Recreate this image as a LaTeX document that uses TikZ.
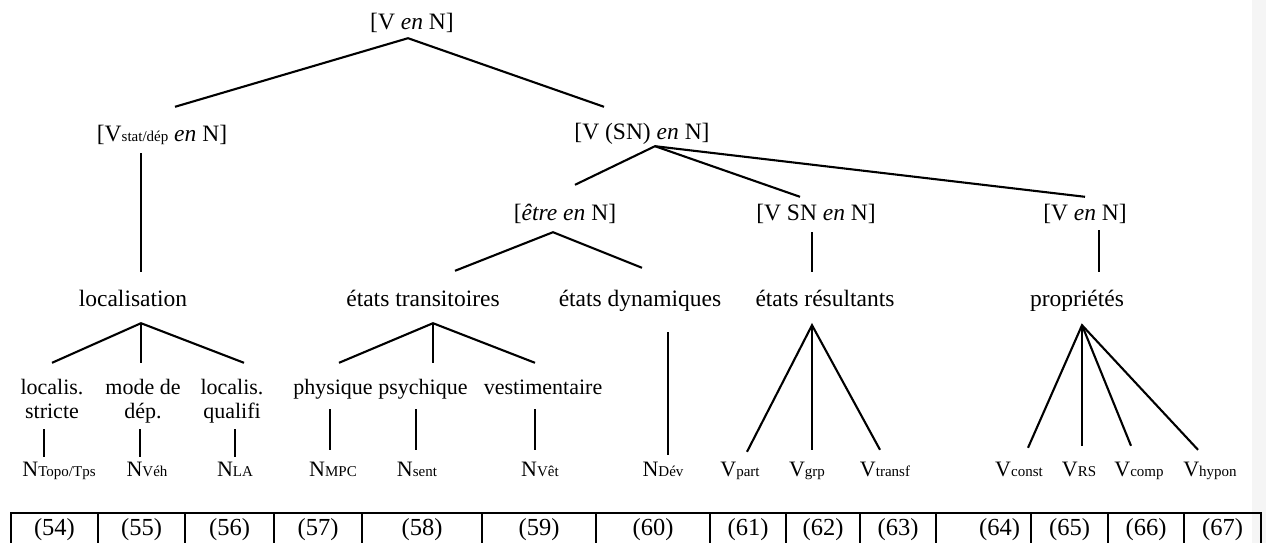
\documentclass[tikz,border=0pt]{standalone}
\usepackage{fontspec}
\setmainfont{Liberation Serif}
\newcommand{\sbs}[1]{{\fontsize{15}{15}\selectfont #1}}

\begin{document}
\begin{tikzpicture}[x=1pt,y=-1pt,
          every node/.style={inner sep=0pt},
          lbl/.style={font=\fontsize{23.5}{27}\selectfont,text height=16pt,text depth=5pt},
          leaf/.style={font=\fontsize{22}{24}\selectfont,align=center},
          cat/.style={font=\fontsize{22}{24}\selectfont,text height=15pt,text depth=4pt},
          num/.style={font=\fontsize{24.5}{26}\selectfont},
          br/.style={line width=2.1pt},
          st/.style={line width=1.7pt},
          cell/.style={draw,line width=1.6pt},
      ]
        \fill[black!4] (1252,0) rectangle (1266,543);
        \useasboundingbox (0,0) rectangle (1266,543);

        \node[lbl] (root) at (412,24) {[V \textit{en} N]};
        \node[lbl] (stat) at (162,136) {[V\sbs{stat/dép} \textit{en} N]};
        \node[lbl] (vsn) at (642,134) {[V (SN) \textit{en} N]};
        \node[lbl] (etre) at (565,215) {[\textit{être en} N]};
        \node[lbl] (vsnen) at (816,215) {[V SN \textit{en} N]};
        \node[lbl] (ven) at (1085,215) {[V \textit{en} N]};

        \node[lbl] (loc) at (133,301) {localisation};
        \node[lbl] (trans) at (423,301) {états transitoires};
        \node[lbl] (dyn) at (640,301) {états dynamiques};
        \node[lbl] (res) at (825,301) {états résultants};
        \node[lbl] (prop) at (1077,301) {propriétés};

        \node[leaf] (lstr) at (52,402) {\strut localis.\\\strut stricte};
        \node[leaf] (mode) at (143,402) {\strut mode de\\\strut dép.};
        \node[leaf] (lqual) at (232,402) {\strut localis.\\\strut qualifi};
        \node[leaf] (phys) at (333,390) {\strut physique};
        \node[leaf] (psy) at (423,390) {\strut psychique};
        \node[leaf] (vest) at (543,390) {\strut vestimentaire};

        \node[cat] (ntopo) at (59,471) {N\sbs{Topo/Tps}};
        \node[cat] (nveh) at (147,471) {N\sbs{Véh}};
        \node[cat] (nla) at (235,471) {N\sbs{LA}};
        \node[cat] (nmpc) at (333,471) {N\sbs{MPC}};
        \node[cat] (nsent) at (417,471) {N\sbs{sent}};
        \node[cat] (nvet) at (540,471) {N\sbs{Vêt}};
        \node[cat] (ndev) at (663,471) {N\sbs{Dév}};
        \node[cat] (vpart) at (740,471) {V\sbs{part}};
        \node[cat] (vgrp) at (807,471) {V\sbs{grp}};
        \node[cat] (vtransf) at (885,471) {V\sbs{transf}};
        \node[cat] (vconst) at (1019,471) {V\sbs{const}};
        \node[cat] (vrs) at (1079,471) {V\sbs{RS}};
        \node[cat] (vcomp) at (1139,471) {V\sbs{comp}};
        \node[cat] (vhypon) at (1210,471) {V\sbs{hypon}};

        \draw[br] ([xshift=13pt,yshift=18.5pt]stat.north) -- ([xshift=-4pt,yshift=-3.5pt]root.south)
                  -- ([xshift=-38pt,yshift=16.5pt]vsn.north);
        \draw[st] ([xshift=-21pt,yshift=-6.5pt]stat.south) -- ([xshift=8pt,yshift=18.5pt]loc.north);
        \draw[br] ([xshift=10pt,yshift=19.5pt]etre.north) -- ([xshift=13pt,yshift=-1.5pt]vsn.south)
                  -- ([xshift=-16pt,yshift=7.5pt]vsnen.north);
        \draw[br] ([xshift=13pt,yshift=-1.5pt]vsn.south) -- ([yshift=7.5pt]ven.north);
        \draw[br] ([xshift=32pt,yshift=19.5pt]trans.north) -- ([xshift=-12pt,yshift=-6.5pt]etre.south)
                  -- ([xshift=2pt,yshift=22.5pt]dyn.north);
        \draw[st] ([xshift=-4pt,yshift=-6.5pt]vsnen.south) -- ([xshift=-13pt,yshift=18.5pt]res.north);
        \draw[st] ([xshift=14pt,yshift=-4.5pt]ven.south) -- ([xshift=22pt,yshift=18.5pt]prop.north);

        \draw[br] ([yshift=15pt]lstr.north) -- ([xshift=8pt,yshift=-11.5pt]loc.south)
                  -- ([xshift=12pt,yshift=15pt]lqual.north);
        \draw[st] ([xshift=8pt,yshift=-11.5pt]loc.south) -- ([xshift=-2pt,yshift=15pt]mode.north);
        \draw[br] ([xshift=6pt,yshift=15pt]phys.north) -- ([xshift=10pt,yshift=-11.5pt]trans.south)
                  -- ([xshift=-8pt,yshift=15pt]vest.north);
        \draw[st] ([xshift=10pt,yshift=-11.5pt]trans.south) -- ([xshift=10pt,yshift=15pt]psy.north);
        \draw[st] ([xshift=28pt,yshift=-20.5pt]dyn.south) -- ([xshift=5pt,yshift=6.5pt]ndev.north);

        \draw[br] ([xshift=7pt,yshift=9.5pt]vpart.north) -- ([xshift=-13pt,yshift=-13.5pt]res.south)
                  -- ([xshift=-5pt,yshift=11.5pt]vtransf.north);
        \draw[st] ([xshift=-13pt,yshift=-13.5pt]res.south) -- ([xshift=5pt,yshift=11.5pt]vgrp.north);
        \draw[br] ([xshift=9pt,yshift=13.5pt]vconst.north) -- ([xshift=5pt,yshift=-13.5pt]prop.south)
                  -- ([xshift=-12pt,yshift=11.5pt]vhypon.north);
        \draw[st] ([xshift=5pt,yshift=-13.5pt]prop.south) -- ([xshift=3pt,yshift=15.5pt]vrs.north);
        \draw[br] ([xshift=5pt,yshift=-13.5pt]prop.south) -- ([xshift=-8pt,yshift=15.5pt]vcomp.north);

        \draw[st] ([xshift=-8pt,yshift=-3pt]lstr.south) -- ([xshift=-15pt,yshift=4.5pt]ntopo.north);
        \draw[st] ([xshift=-3pt,yshift=-3pt]mode.south) -- ([xshift=-7pt,yshift=4.5pt]nveh.north);
        \draw[st] ([xshift=3pt,yshift=-3pt]lqual.south) -- ([yshift=4.5pt]nla.north);
        \draw[st] ([xshift=-3pt,yshift=-7pt]phys.south) -- ([xshift=-3pt,yshift=11.5pt]nmpc.north);
        \draw[st] ([xshift=-7pt,yshift=-7pt]psy.south) -- ([xshift=-1pt,yshift=11.5pt]nsent.north);
        \draw[st] ([xshift=-8pt,yshift=-7pt]vest.south) -- ([xshift=-5pt,yshift=11.5pt]nvet.north);

        \foreach \a/\b/\n/\o in {11/98/54/0, 98/185/55/0, 185/274/56/0, 274/362/57/0,
                                 362/482/58/0, 482/596/59/0, 596/710/60/0, 710/786/61/0,
                                 786/860/62/0, 860/936/63/0, 936/1031/64/16, 1031/1108/65/0,
                                 1108/1184/66/0, 1184/1261/67/0}
          {
            \draw[cell] (\a,513) rectangle (\b,550);
            \node[num] (c\n) at ({(\a+\b)/2+\o},530) {(\n)};
          }
      \end{tikzpicture}
\end{document}
